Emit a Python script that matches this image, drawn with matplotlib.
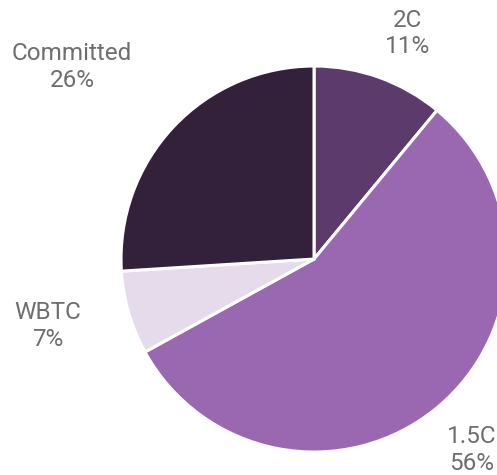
import numpy as np
import matplotlib
matplotlib.use("Agg")
import matplotlib.pyplot as plt

# === Data ===
labels = ["2C", "1.5C", "WBTC", "Committed"]
shares = [11, 56, 7, 26]
colors = ["#5c3a6c", "#9a68b0", "#e6dbeb", "#33203b"]

# label centres, in pie radii (x, y) from the pie centre
label_pos = [(0.487, 1.168), (0.819, -0.990), (-1.378, -0.347), (-1.254, 0.995)]

plt.rcParams['font.family'] = ['Roboto', 'DejaVu Sans']

fig = plt.figure(figsize=(4.97, 4.75), dpi=100)
ax = fig.add_axes([0.2435, 0.0484, 0.7767, 0.8126])

wedges, _ = ax.pie(shares, colors=colors, startangle=90, counterclock=False,
                   radius=1, wedgeprops=dict(edgecolor="white", linewidth=2.2))
ax.set_xlim(-1, 1)
ax.set_ylim(-1, 1)
ax.axis("off")

for lab, val, (x, y) in zip(labels, shares, label_pos):
    ax.text(x, y, f"{lab}\n{val}%", ha="center", va="center",
            fontsize=17.5, color="#6e6e6e",
            linespacing=1.2, clip_on=False)

fig.savefig("out.png", dpi=100)
